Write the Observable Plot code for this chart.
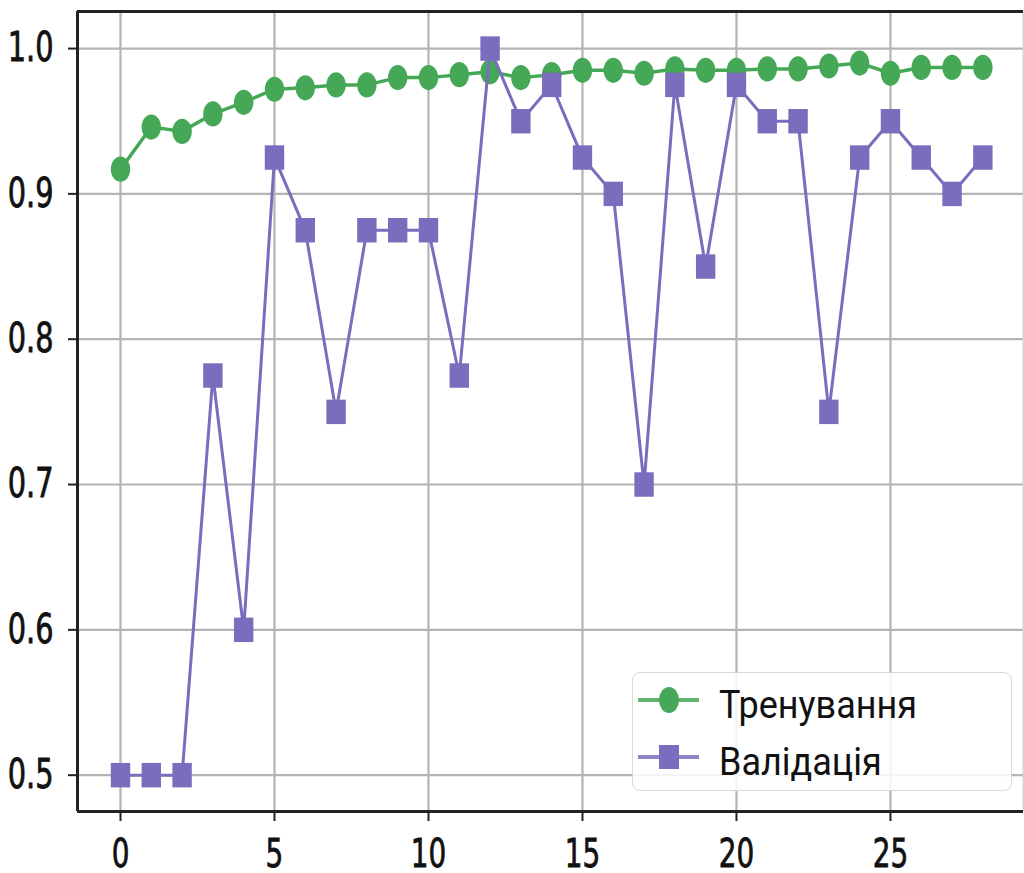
<!DOCTYPE html>
<html>
<head>
<meta charset="utf-8">
<script src="https://cdn.jsdelivr.net/npm/d3@7"></script>
<script src="https://cdn.jsdelivr.net/npm/@observablehq/plot@0.6"></script>
<style>
  html, body { margin: 0; padding: 0; background: #fff; overflow: hidden; }
  #wrap { position: relative; width: 1024px; height: 873px; overflow: hidden; }
  #wrap > svg { max-width: none !important; height: 873px !important; display: block; }
  #legend { position: absolute; left: 632px; top: 672px; width: 380px; height: 119px;
    border: 1.5px solid #d8d8d8; border-radius: 8px; background: rgba(255,255,255,0.85);
    box-sizing: border-box; }
  #legend svg { position: absolute; left: 0; top: 0; }
</style>
</head>
<body>
<div id="wrap"></div>
<script>
const epochs = d3.range(0, 29);
const trainAcc = [0.917, 0.946, 0.943, 0.955, 0.963, 0.972, 0.973, 0.975, 0.975, 0.980,
  0.980, 0.982, 0.984, 0.980, 0.982, 0.985, 0.985, 0.983, 0.986, 0.985,
  0.985, 0.986, 0.986, 0.988, 0.990, 0.983, 0.987, 0.987, 0.987];
const valAcc = [0.5, 0.5, 0.5, 0.775, 0.6, 0.925, 0.875, 0.75, 0.875, 0.875,
  0.875, 0.775, 1.0, 0.95, 0.975, 0.925, 0.9, 0.7, 0.975, 0.85,
  0.975, 0.95, 0.95, 0.75, 0.925, 0.95, 0.925, 0.9, 0.925];
const xTicks = [0, 5, 10, 15, 20, 25];
const yTicks = [0.5, 0.6, 0.7, 0.8, 0.9, 1.0];
const seriesNames = ["Тренування", "Валідація"];
const xDomain = [-1.396, 29.32];
const yDomain = [0.475, 1.0255];
const green = "#45a857";
const purple = "#7b6cbd";

const train = epochs.map((e, i) => ({epoch: e, acc: trainAcc[i]}));
const val = epochs.map((e, i) => ({epoch: e, acc: valAcc[i]}));

// stretched symbols (the reference is vertically stretched)
const K = 0.5522847498;
const ellipse = {draw(ctx, size) {
  const r = Math.sqrt(size / Math.PI), rx = r, ry = r * 1.3;
  ctx.moveTo(rx, 0);
  ctx.bezierCurveTo(rx, ry * K, rx * K, ry, 0, ry);
  ctx.bezierCurveTo(-rx * K, ry, -rx, ry * K, -rx, 0);
  ctx.bezierCurveTo(-rx, -ry * K, -rx * K, -ry, 0, -ry);
  ctx.bezierCurveTo(rx * K, -ry, rx, -ry * K, rx, 0);
  ctx.closePath();
}};
const tallSquare = {draw(ctx, size) {
  const r = Math.sqrt(size / Math.PI);
  ctx.rect(-r, -r * 1.26, 2 * r, 2 * r * 1.26);
}};

const font = "'DejaVu Sans Condensed', 'DejaVu Sans', sans-serif";
const chart = Plot.plot({
  width: 1024, height: 873,
  marginLeft: 77, marginRight: 1, marginTop: 11, marginBottom: 62,
  style: {fontFamily: font, background: "#fff", overflow: "visible"},
  x: {domain: xDomain},
  y: {domain: yDomain},
  marks: [
    Plot.gridX(xTicks, {stroke: "#b4b4b4", strokeOpacity: 1, strokeWidth: 2.2}),
    Plot.gridY(yTicks, {stroke: "#b4b4b4", strokeOpacity: 1, strokeWidth: 2.2}),
    Plot.ruleX([xDomain[1]], {stroke: "#d4d4d4", strokeWidth: 2}),
    Plot.ruleX([xDomain[0]], {stroke: "#222", strokeWidth: 3}),
    Plot.ruleY(yDomain, {stroke: "#222", strokeWidth: 3}),
    Plot.axisX(xTicks, {tickSize: 10, tickPadding: 18, fontSize: 31, stroke: "#222", strokeWidth: 2, label: null, fill: "#111"}),
    Plot.axisY(yTicks, {tickSize: 9, tickPadding: 15, fontSize: 32, stroke: "#222", strokeWidth: 2, label: null, fill: "#111", tickFormat: d3.format(".1f")}),
    Plot.line(train, {x: "epoch", y: "acc", stroke: green, strokeWidth: 3.5}),
    Plot.dot(train, {x: "epoch", y: "acc", fill: green, r: 9.7, symbol: ellipse}),
    Plot.line(val, {x: "epoch", y: "acc", stroke: purple, strokeWidth: 3}),
    Plot.dot(val, {x: "epoch", y: "acc", fill: purple, r: 9.7, symbol: tallSquare})
  ]
});
chart.style.maxWidth = "none";
// stretch tick labels vertically like the reference
chart.querySelectorAll("[aria-label='x-axis tick label'] text, [aria-label='y-axis tick label'] text").forEach(t => {
  const tr = t.getAttribute("transform") || "";
  t.setAttribute("transform", tr + " scale(1,1.25)");
  t.setAttribute("stroke", "#111");
  t.setAttribute("stroke-width", 0.6);
});
const wrap = document.getElementById("wrap");
wrap.appendChild(chart);

// legend
const legend = document.createElement("div");
legend.id = "legend";
const colors = [green, purple];
const ns = "http://www.w3.org/2000/svg";
const lsvg = document.createElementNS(ns, "svg");
lsvg.setAttribute("width", 380); lsvg.setAttribute("height", 119);
seriesNames.forEach((name, i) => {
  const cy = 27 + i * 57;
  const line = document.createElementNS(ns, "line");
  line.setAttribute("x1", 5); line.setAttribute("x2", 66);
  line.setAttribute("y1", cy); line.setAttribute("y2", cy);
  line.setAttribute("stroke", colors[i]); line.setAttribute("stroke-width", 4);
  line.setAttribute("stroke-opacity", 0.85);
  lsvg.appendChild(line);
  let m;
  if (i === 0) {
    m = document.createElementNS(ns, "ellipse");
    m.setAttribute("cx", 36); m.setAttribute("cy", cy); m.setAttribute("rx", 10); m.setAttribute("ry", 13);
  } else {
    m = document.createElementNS(ns, "rect");
    m.setAttribute("x", 26); m.setAttribute("y", cy - 12); m.setAttribute("width", 20); m.setAttribute("height", 24);
  }
  m.setAttribute("fill", colors[i]);
  lsvg.appendChild(m);
  const t = document.createElementNS(ns, "text");
  t.setAttribute("x", 86); t.setAttribute("y", cy + 18);
  t.setAttribute("font-family", "Roboto, sans-serif");
  t.setAttribute("font-size", 36);
  t.setAttribute("fill", "#111");
  t.setAttribute("transform", `translate(0,${cy + 18}) scale(1,1.06) translate(0,${-(cy + 18)})`);
  t.textContent = name;
  lsvg.appendChild(t);
});
legend.appendChild(lsvg);
wrap.appendChild(legend);
</script>
</body>
</html>
